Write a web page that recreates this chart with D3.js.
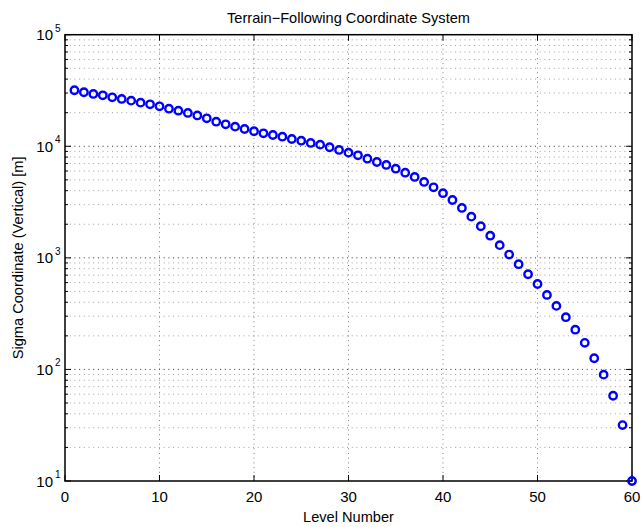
<!DOCTYPE html>
<html>
<head>
<meta charset="utf-8">
<script src="https://cdn.jsdelivr.net/npm/d3@7"></script>
<style>
  html, body { margin: 0; padding: 0; background: #fff; }
  svg { display: block; font-family: "Liberation Sans", Arial, Helvetica, sans-serif; }
</style>
</head>
<body>
<svg id="chart" width="642" height="527"></svg>
<script>
// ---- Data ----
const levels = [1,2,3,4,5,6,7,8,9,10,11,12,13,14,15,16,17,18,19,20,
                21,22,23,24,25,26,27,28,29,30,31,32,33,34,35,36,37,38,39,40,
                41,42,43,44,45,46,47,48,49,50,51,52,53,54,55,56,57,58,59,60];
const sigma = [31770,30480,29440,28640,27480,26550,25640,24600,23780,22810,
               21730,20840,19900,18900,17810,16600,15740,14990,14290,13630,
               13070,12620,12190,11620,11220,10710,10340,9800,9270,8770,
               8300,7740,7230,6800,6300,5800,5310,4790,4290,3800,
               3300,2800,2340,1920,1580,1300,1070,877,713,583,
               465,371,294,227,173,126,89.8,58.1,31.7,10];
const xTicks = [0,10,20,30,40,50,60];
const yExponents = [1,2,3,4,5];
const minorMultipliers = [2,3,4,5,6,7,8,9];
const titleText = "Terrain\u2212Following Coordinate System";
const xLabelText = "Level Number";
const yLabelText = "Sigma Coordinate (Vertical) [m]";

// ---- Layout ----
const L = 65, R = 632, T = 34.7, B = 481;
const svg = d3.select("#chart");
const x = d3.scaleLinear().domain([0, 60]).range([L, R]);
const y = d3.scaleLog().domain([10, 100000]).range([B, T]);

const majorVals = yExponents.map(e => Math.pow(10, e));
const minorVals = [];
yExponents.slice(0, -1).forEach(e => minorMultipliers.forEach(m => minorVals.push(m * Math.pow(10, e))));

// ---- Grid ----
const grid = svg.append("g");
grid.selectAll(".ymin").data(minorVals).enter().append("line")
  .attr("x1", L).attr("x2", R)
  .attr("y1", d => y(d)).attr("y2", d => y(d))
  .attr("stroke", "#a0a0a0").attr("stroke-width", 1).attr("stroke-dasharray", "1,3.7");
grid.selectAll(".ymaj").data(majorVals.filter(v => v > 10 && v < 100000)).enter().append("line")
  .attr("x1", L).attr("x2", R)
  .attr("y1", d => y(d)).attr("y2", d => y(d))
  .attr("stroke", "#333").attr("stroke-width", 1).attr("stroke-dasharray", "1,3.7");
grid.selectAll(".xmaj").data(xTicks.filter(v => v > 0 && v < 60)).enter().append("line")
  .attr("y1", T).attr("y2", B)
  .attr("x1", d => x(d)).attr("x2", d => x(d))
  .attr("stroke", "#808080").attr("stroke-width", 1).attr("stroke-dasharray", "1,3.7");

// ---- Ticks (inside, all four sides) ----
const ticks = svg.append("g").attr("stroke", "#000").attr("stroke-width", 1);
xTicks.forEach(v => {
  ticks.append("line").attr("x1", x(v)).attr("x2", x(v)).attr("y1", B).attr("y2", B - 6);
  ticks.append("line").attr("x1", x(v)).attr("x2", x(v)).attr("y1", T).attr("y2", T + 6);
});
majorVals.forEach(v => {
  ticks.append("line").attr("x1", L).attr("x2", L + 6).attr("y1", y(v)).attr("y2", y(v));
  ticks.append("line").attr("x1", R).attr("x2", R - 6).attr("y1", y(v)).attr("y2", y(v));
});
minorVals.forEach(v => {
  ticks.append("line").attr("x1", L).attr("x2", L + 3).attr("y1", y(v)).attr("y2", y(v));
  ticks.append("line").attr("x1", R).attr("x2", R - 3).attr("y1", y(v)).attr("y2", y(v));
});

// ---- Box ----
svg.append("rect").attr("x", L).attr("y", T).attr("width", R - L).attr("height", B - T)
  .attr("fill", "none").attr("stroke", "#000").attr("stroke-width", 1.5);

// ---- Tick labels ----
svg.append("g").selectAll("text").data(xTicks).enter().append("text")
  .attr("x", d => x(d)).attr("y", 502)
  .attr("text-anchor", "middle").attr("font-size", 15).attr("fill", "#000")
  .text(d => d);

const yl = svg.append("g");
yExponents.forEach(e => {
  const yy = y(Math.pow(10, e));
  yl.append("text").attr("x", 53).attr("y", yy + 5.5)
    .attr("text-anchor", "end").attr("font-size", 15).attr("fill", "#000").text("10");
  yl.append("text").attr("x", 55).attr("y", yy - 3)
    .attr("text-anchor", "start").attr("font-size", 10).attr("fill", "#000").text(e);
});

// ---- Data points ----
svg.append("g").selectAll("circle").data(levels).enter().append("circle")
  .attr("cx", (d, i) => x(d)).attr("cy", (d, i) => y(sigma[i]))
  .attr("r", 3.7).attr("fill", "none").attr("stroke", "#0000ff").attr("stroke-width", 2.4);

// ---- Title & labels ----
svg.append("text").attr("x", (L + R) / 2).attr("y", 23)
  .attr("text-anchor", "middle").attr("font-size", 14.6).attr("fill", "#000").text(titleText);
svg.append("text").attr("x", (L + R) / 2).attr("y", 522)
  .attr("text-anchor", "middle").attr("font-size", 14.6).attr("fill", "#000").text(xLabelText);
svg.append("text")
  .attr("transform", `translate(23,${(T + B) / 2}) rotate(-90)`)
  .attr("text-anchor", "middle").attr("font-size", 14.6).attr("fill", "#000").text(yLabelText);
</script>
</body>
</html>
